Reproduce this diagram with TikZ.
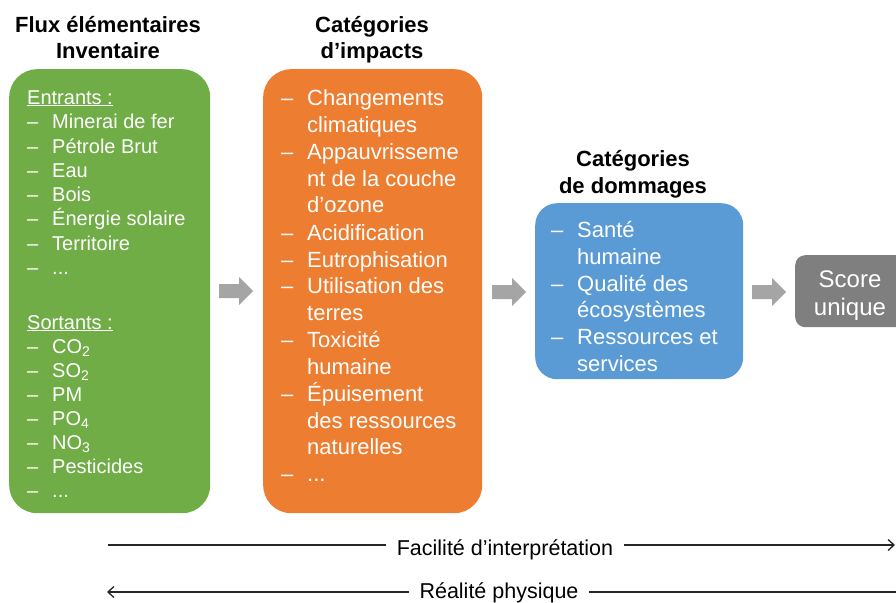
\documentclass[tikz,border=0pt]{standalone}
\usepackage{fontspec}
\setmainfont{Liberation Sans}
\usetikzlibrary{arrows.meta}
\definecolor{vert}{HTML}{70AD47}
\definecolor{orangeb}{HTML}{ED7D31}
\definecolor{bleu}{HTML}{5B9BD5}
\definecolor{grisb}{HTML}{7F7F7F}
\definecolor{grisf}{HTML}{A5A5A5}
\newcommand\pointsx{...}
\begin{document}
\begin{tikzpicture}[x=1pt,y=-1pt,
  box/.style={anchor=north west, inner sep=0pt, draw=none},
  gitem/.style={anchor=base west, inner sep=0pt, text=white, font=\fontsize{20}{24}\selectfont},
  oitem/.style={anchor=base west, inner sep=0pt, text=white, font=\fontsize{22}{26}\selectfont},
  titre/.style={anchor=base, inner sep=0pt, font=\bfseries\fontsize{22}{26}\selectfont},
  flow/.style={fill=grisf},
  axe/.style={line width=1.3pt, draw=black!85},
  axelabel/.style={anchor=base, fill=white, inner xsep=11pt, inner ysep=3pt, font=\fontsize{21.5}{26}\selectfont}
]
\useasboundingbox (0,0) rectangle (896,602);
\clip (0,0) rectangle (896,602);

% boxes
\node[box, fill=vert, rounded corners=28pt, minimum width=201pt, minimum height=444pt] (green) at (9,69) {};
\node[box, fill=orangeb, rounded corners=28pt, minimum width=219pt, minimum height=444pt] (orange) at (263,69) {};
\node[box, fill=bleu, rounded corners=22pt, minimum width=208pt, minimum height=176pt] (blue) at (535,203) {};
\node[box, fill=grisb, rounded corners=10pt, minimum width=112pt, minimum height=72pt] (grey) at (795,255) {};

% titles
\node[titre] (t1a) at (108,33) {Flux élémentaires};
\node[titre] (t1b) at (108,59) {Inventaire};
\node[titre] (t2a) at (372,33) {Catégories};
\node[titre] (t2b) at (372,59) {d’impacts};
\node[titre] (t3a) at (633,166) {Catégories};
\node[titre] (t3b) at (633,193) {de dommages};

% green content
\node[gitem] (entrants) at (27,104) {\underline{Entrants :}};
\foreach \y/\t [count=\i] in {128/Minerai de fer, 153/Pétrole Brut, 177/Eau, 201/Bois, 225/Énergie solaire, 250/Territoire, 274/\pointsx} {
  \node[gitem] (ged\i) at (27,\y) {–};
  \node[gitem] (get\i) at (52,\y) {\t};
}
\node[gitem] (sortants) at (27,329) {\underline{Sortants :}};
\foreach \y/\t [count=\i] in {353/CO\textsubscript{2}, 377/SO\textsubscript{2}, 401/PM, 425/PO\textsubscript{4}, 449/NO\textsubscript{3}, 473/Pesticides, 497/\pointsx} {
  \node[gitem] (gsd\i) at (27,\y) {–};
  \node[gitem] (gst\i) at (52,\y) {\t};
}

% orange content
\foreach \y [count=\i] in {105, 159, 240, 267, 293, 347, 401, 481} {
  \node[oitem] (od\i) at (281,\y) {–};
}
\foreach \y/\t [count=\i] in {105/Changements, 132/climatiques, 159/Appauvrisseme, 186/nt de la couche, 212/d’ozone, 240/Acidification, 267/Eutrophisation, 293/Utilisation des, 320/terres, 347/Toxicité, 374/humaine, 401/Épuisement, 428/des ressources, 454/naturelles, 481/\pointsx} {
  \node[oitem] (ot\i) at (307,\y) {\t};
}

% blue content
\foreach \y [count=\i] in {237, 291, 344} {
  \node[oitem] (bd\i) at (551,\y) {–};
}
\foreach \y/\t [count=\i] in {237/Santé, 264/humaine, 291/Qualité des, 317/écosystèmes, 344/Ressources et, 371/services} {
  \node[oitem] (bt\i) at (577,\y) {\t};
}

% grey content
\node[anchor=base, inner sep=0pt, text=white, font=\fontsize{24}{29}\selectfont] (score) at (850,287) {Score};
\node[anchor=base, inner sep=0pt, text=white, font=\fontsize{24}{29}\selectfont] (unique) at (850,315) {unique};

% block arrows
\fill[flow] (219,284) -- (239,284) -- (239,277) -- (253,291) -- (239,305) -- (239,298) -- (219,298) -- cycle;
\fill[flow] (492,285) -- (512,285) -- (512,278) -- (526,292) -- (512,306) -- (512,299) -- (492,299) -- cycle;
\fill[flow] (752,285) -- (772,285) -- (772,278) -- (786,292) -- (772,306) -- (772,299) -- (752,299) -- cycle;

% bottom axes
\coordinate (fL) at (108,545);
\coordinate (fR) at (895,545);
\coordinate (rL) at (107,592);
\coordinate (rR) at (897,592);
\draw[axe, -{Straight Barb[length=6pt,width=11pt]}] (fL) -- (fR);
\draw[axe, -{Straight Barb[length=6pt,width=11pt]}] (rR) -- (rL);
\node[axelabel] (fac) at (505,555) {Facilité d’interprétation};
\node[axelabel] (real) at (499,598) {Réalité physique};
\end{tikzpicture}
\end{document}
